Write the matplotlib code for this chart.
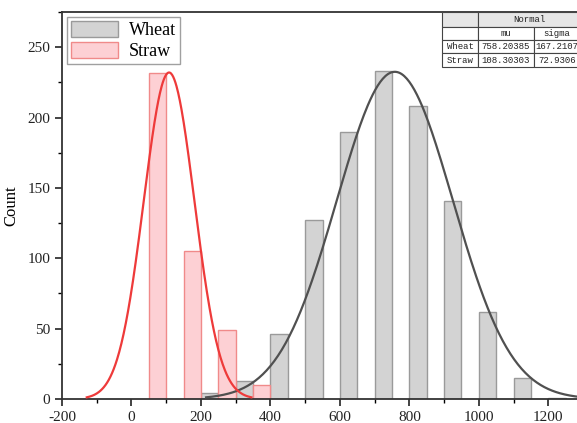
import numpy as np
import matplotlib
matplotlib.use("Agg")
import matplotlib.pyplot as plt
from matplotlib.patches import Rectangle
from matplotlib.ticker import MultipleLocator

# histogram counts (bins of width 100, straw drawn on the left half, wheat on the right half)
wheat_left = [200, 300, 400, 500, 600, 700, 800, 900, 1000, 1100, 1200]
wheat_count = [4, 13, 46, 127, 190, 233, 208, 141, 62, 15, 1]
straw_left = [50, 150, 250, 350]
straw_count = [232, 105, 49, 10]
bar_width = 50

# normal fits (from the table)
wheat_mu, wheat_sigma = 758.20385, 167.2107
straw_mu, straw_sigma = 108.30303, 72.9306
wheat_peak = 232.5
straw_peak = 232.0

table_rows = [["", "Normal", ""],
              ["", "mu", "sigma"],
              ["Wheat", "758.20385", "167.2107"],
              ["Straw", "108.30303", "72.9306"]]

plt.rcParams['font.family'] = ['Liberation Serif', 'DejaVu Serif']
plt.rcParams['axes.unicode_minus'] = False

fig = plt.figure(figsize=(5.77, 4.23), dpi=100)
W, H = 577, 423
ax = fig.add_axes([62 / W, 24 / H, (583 - 62) / W, (399 - 12) / H])

ax.bar(wheat_left, wheat_count, width=bar_width, align='edge', color='#d3d3d3',
       edgecolor='#9a9a9a', linewidth=1.0, label='Wheat', zorder=2)
ax.bar(straw_left, straw_count, width=bar_width, align='edge', color='#fdd0d4',
       edgecolor='#f08a8a', linewidth=1.0, label='Straw', zorder=2)

def normal_curve(mu, sigma, peak):
    x = np.linspace(mu - 3.25 * sigma, mu + 3.25 * sigma, 300)
    return x, peak * np.exp(-0.5 * ((x - mu) / sigma) ** 2)

xw, yw = normal_curve(wheat_mu, wheat_sigma, wheat_peak)
xs, ys = normal_curve(straw_mu, straw_sigma, straw_peak)
ax.plot(xw, yw, color='#505050', linewidth=1.6, zorder=3)
ax.plot(xs, ys, color='#ee3a3a', linewidth=1.6, zorder=3)

ax.set_xlim(-200, 1300)
ax.set_ylim(0, 275)
ax.xaxis.set_major_locator(MultipleLocator(200))
ax.xaxis.set_minor_locator(MultipleLocator(100))
ax.yaxis.set_major_locator(MultipleLocator(50))
ax.yaxis.set_minor_locator(MultipleLocator(25))
ax.tick_params(which='major', direction='out', length=5, width=1.2, labelsize=11, colors='#222222')
ax.tick_params(which='minor', direction='out', length=3, width=1.0)
for s in ['left', 'bottom', 'top']:
    ax.spines[s].set_linewidth(1.3)
    ax.spines[s].set_color('#333333')
ax.spines['right'].set_visible(False)
ax.set_ylabel('Count', fontsize=12, labelpad=6)

leg = ax.legend(loc='upper left', fontsize=13, frameon=True, fancybox=False,
                borderpad=0.2, handlelength=2.6, handleheight=1.0,
                labelspacing=0.15, handletextpad=0.6, borderaxespad=0.3)
leg.get_frame().set_edgecolor('#888888')
leg.get_frame().set_linewidth(1.0)

# stats table in the top right corner
col_x = [442, 478, 534, 580]
row_y = [12.5, 27, 40, 53.5, 67]
for r in range(4):
    for c in range(3):
        x0, x1 = col_x[c], col_x[c + 1]
        y0, y1 = row_y[r], row_y[r + 1]
        fc = '#e6e6e6' if r == 0 else 'white'
        if r == 0 and c == 1:
            x1 = col_x[3]
        if r == 0 and c == 2:
            continue
        fig.patches.append(Rectangle((x0 / W, 1 - y1 / H), (x1 - x0) / W, (y1 - y0) / H,
                                     transform=fig.transFigure, facecolor=fc,
                                     edgecolor='#444444', linewidth=0.8, zorder=5))
        txt = table_rows[r][c]
        if txt:
            fig.text((x0 + x1) / 2 / W, 1 - (y0 + y1) / 2 / H, txt, ha='center', va='center',
                     fontsize=6.5, family=['Liberation Mono', 'DejaVu Sans Mono'],
                     color='#222222', zorder=6)

fig.savefig('out.png', dpi=100)
